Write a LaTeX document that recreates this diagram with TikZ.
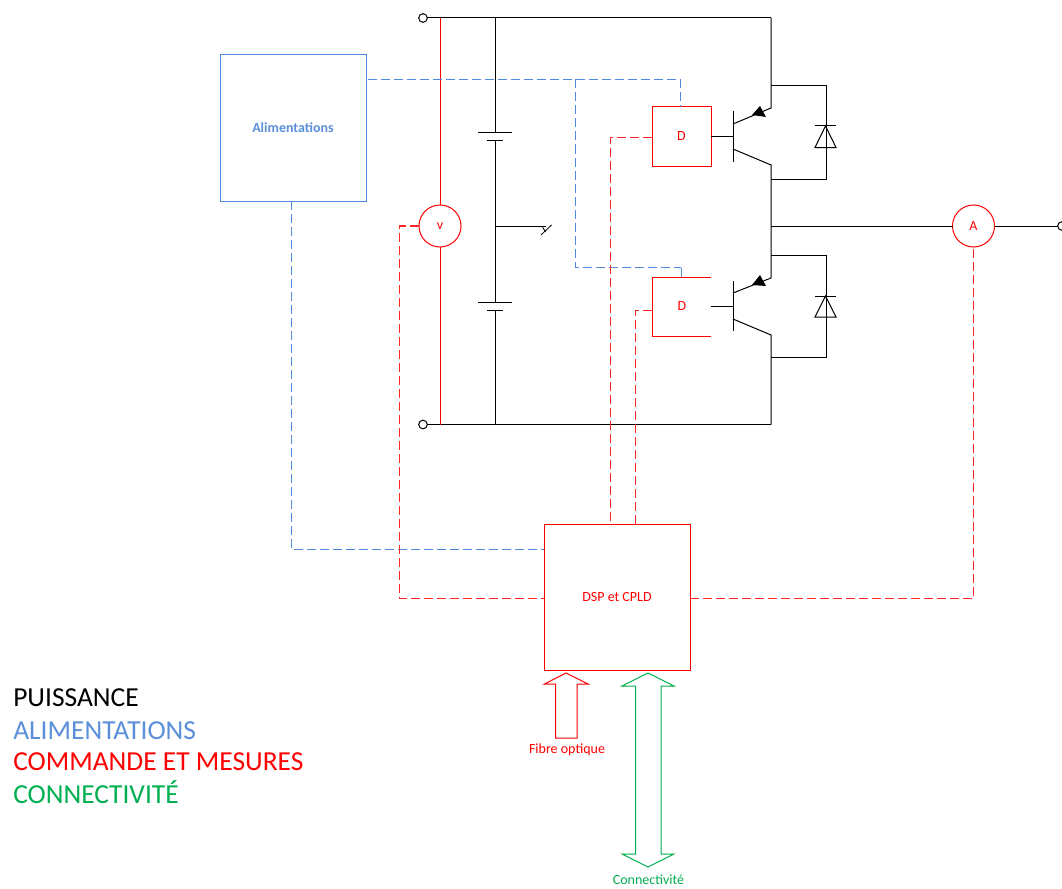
\documentclass[tikz,border=0pt]{standalone}
\usepackage{fontspec}
\setmainfont{Carlito}
\definecolor{cblue}{HTML}{4F8AE0}
\definecolor{cblueText}{HTML}{5B8FD9}
\definecolor{cred}{HTML}{FF0000}
\definecolor{cgreen}{HTML}{00B050}
\tikzset{
  x=0.75pt,y=-0.75pt,
  pw/.style={draw=black,line width=0.75pt},
  rdash/.style={draw=cred!85,line width=0.9pt,dash pattern=on 6.75pt off 3pt},
  bdash/.style={draw=cblue,line width=0.9pt,dash pattern=on 6.75pt off 3pt},
  term/.style={circle,draw=black,fill=white,line width=0.75pt,inner sep=0pt,outer sep=0pt,minimum size=6.5pt},
  bigbox/.style={rectangle,line width=0.75pt,inner sep=0pt,outer sep=0pt,minimum width=109.5pt,minimum height=109.5pt,font=\fontsize{10.5pt}{12pt}\selectfont},
  dbox/.style={rectangle,draw=cred,text=cred,line width=0.75pt,inner sep=0pt,outer sep=0pt,minimum width=44.25pt,minimum height=44.25pt,font=\fontsize{10.5pt}{12pt}\selectfont},
  meter/.style={circle,draw=cred,text=cred,fill=white,line width=0.75pt,inner sep=0pt,outer sep=0pt,minimum size=31.5pt,font=\fontsize{10.5pt}{12pt}\selectfont},
  legend/.style={anchor=base west,inner sep=0pt,font=\fontsize{20.6pt}{24pt}\selectfont},
  small/.style={inner sep=0pt,font=\fontsize{10.5pt}{12pt}\selectfont},
  plate/.style={draw=black,line width=0.75pt},
  hollow/.style={line width=0.75pt,fill=white},
}
\begin{document}
\begin{tikzpicture}
\useasboundingbox (0,0) rectangle (1062,888);
% terminals and rails
\node[term] (tt) at (423,18) {};
\node[term] (tb) at (423,424.5) {};
\node[term] (tr) at (1062,226) {};
\coordinate (railT) at (771,18);
\coordinate (railB) at (771,424.5);
\coordinate (midR) at (771,226);
\draw[pw] (tt) -- (railT);
\draw[pw] (tb) -- (railB);
% voltmeter
\node[meter] (V) at (440,226) {v};
\coordinate (vT) at (440,18);
\coordinate (vB) at (440,424.5);
\draw[draw=cred,line width=0.75pt] (vT) -- (V) -- (vB);
% battery
\coordinate (bT) at (495,18);
\coordinate (bB) at (495,424.5);
\coordinate (c1a) at (495,132.5);
\coordinate (c1b) at (495,141);
\coordinate (c2a) at (495,302);
\coordinate (c2b) at (495,310);
\coordinate (bM) at (495,226);
\coordinate (bS) at (545.5,226);
\draw[pw] (bT) -- (c1a) (c1b) -- (c2a) (c2b) -- (bB) (bM) -- (bS);
\draw[plate] (478,132.5) -- (512,132.5) (487,141) -- (503,141) (478,302) -- (512,302) (487,310) -- (503,310);
\draw[pw,line width=0.6pt] (541,235) -- (551.5,225);
\draw[pw,line width=0.6pt] (542,226) -- (545.5,232);
% output
\node[meter] (A) at (973.5,226) {A};
\draw[pw] (midR) -- (A) -- (tr);
% upper leg
\node[dbox,anchor=north west] (D1) at (652,107) {D};
\coordinate (b1) at (733,137);
\coordinate (e1) at (733,124);
\coordinate (e1c) at (771,108);
\coordinate (c1) at (733,149);
\coordinate (c1c) at (771,165);
\draw[pw] (railT) -- (e1c) -- (e1);
\draw[pw] (midR) -- (c1c) -- (c1);
\draw[pw] (733,111) -- (733,162);
\draw[pw] (D1.east |- b1) -- (b1);
\fill[black] (752,115) -- (760,106) -- (766,117) -- cycle;
\draw[pw] (771,86) -- (826,86) -- (826,179) -- (771,179);
\draw[pw] (815,126) -- (836,126);
\draw[pw,line join=miter] (825.5,126) -- (836,147.5) -- (815,147.5) -- cycle;
% lower leg
\coordinate (d2a) at (711,277);
\coordinate (d2b) at (652,277);
\coordinate (d2c) at (652,336);
\coordinate (d2d) at (711,336);
\draw[draw=cred,line width=0.75pt] (d2a) -- (d2b) -- (d2c) -- (d2d);
\node[small,text=cred] (D2) at (682,306) {D};
\coordinate (b2) at (733,306);
\coordinate (e2) at (733,293);
\coordinate (e2c) at (771,278);
\coordinate (c2) at (733,319);
\coordinate (c2c) at (771,335);
\draw[pw] (midR) -- (e2c) -- (e2);
\draw[pw] (railB) -- (c2c) -- (c2);
\draw[pw] (733,281) -- (733,331);
\draw[pw] (711,306) -- (b2);
\fill[black] (752,285) -- (760,275) -- (766,286) -- cycle;
\draw[pw] (771,255) -- (826,255) -- (826,357) -- (771,357);
\draw[pw] (815,296) -- (836,296);
\draw[pw,line join=miter] (825.5,296) -- (836,317) -- (815,317) -- cycle;
% boxes
\node[bigbox,draw=cblue,text=cblueText,anchor=north west] (Al) at (220,55) {\textbf{Alimentations}};
\node[bigbox,draw=cred,text=cred,anchor=north west] (DSP) at (544,524) {DSP et CPLD};
% blue dashed
\coordinate (al1) at (368,79.5);
\coordinate (al2) at (680.5,79.5);
\coordinate (al3) at (575.5,79.5);
\coordinate (al4) at (575.5,267.5);
\coordinate (al5) at (681,267.5);
\coordinate (al6) at (681,277);
\coordinate (al7) at (291.5,201);
\coordinate (al8) at (291.5,549.5);
\draw[bdash] (al1) -- (al2) -- (al2 |- D1.north);
\draw[bdash] (al3) -- (al4) -- (al5);
\draw[draw=cblue,line width=0.75pt] (al5) -- (al6);
\draw[bdash] (al7) -- (al8) -- (al8 -| DSP.west);
% red dashed
\draw[rdash] (D1.west |- 652,137.5) -- (610.5,137.5) -- (610.5,524);
\draw[rdash] (652,310.5) -- (635.5,310.5) -- (635.5,524);
\draw[rdash] (V.west) -- (399.5,226) -- (399.5,598.5) -- (DSP.west |- 399.5,598.5);
\draw[rdash] (DSP.east |- 973.5,598.5) -- (973.5,598.5) -- (A.south);
% arrows
\draw[hollow,draw=cred] (566,673) -- (588,684) -- (577,684) -- (577,738) -- (555.5,738) -- (555.5,684) -- (544.5,684) -- cycle;
\node[small,text=cred] (fo) at (567,749.5) {Fibre optique};
\draw[hollow,draw=cgreen] (648,673) -- (674,686) -- (661,686) -- (661,854) -- (674,854) -- (648,867) -- (622,854) -- (635.5,854) -- (635.5,686) -- (622,686) -- cycle;
\node[small,text=cgreen,anchor=base] (cn) at (648.5,884) {Connectivité};
% legend
\node[legend,text=black] (l1) at (13,706) {PUISSANCE};
\node[legend,text=cblueText] (l2) at (13,739) {ALIMENTATIONS};
\node[legend,text=cred] (l3) at (13,770) {COMMANDE ET MESURES};
\node[legend,text=cgreen] (l4) at (13,803) {CONNECTIVITÉ};
\end{tikzpicture}
\end{document}
